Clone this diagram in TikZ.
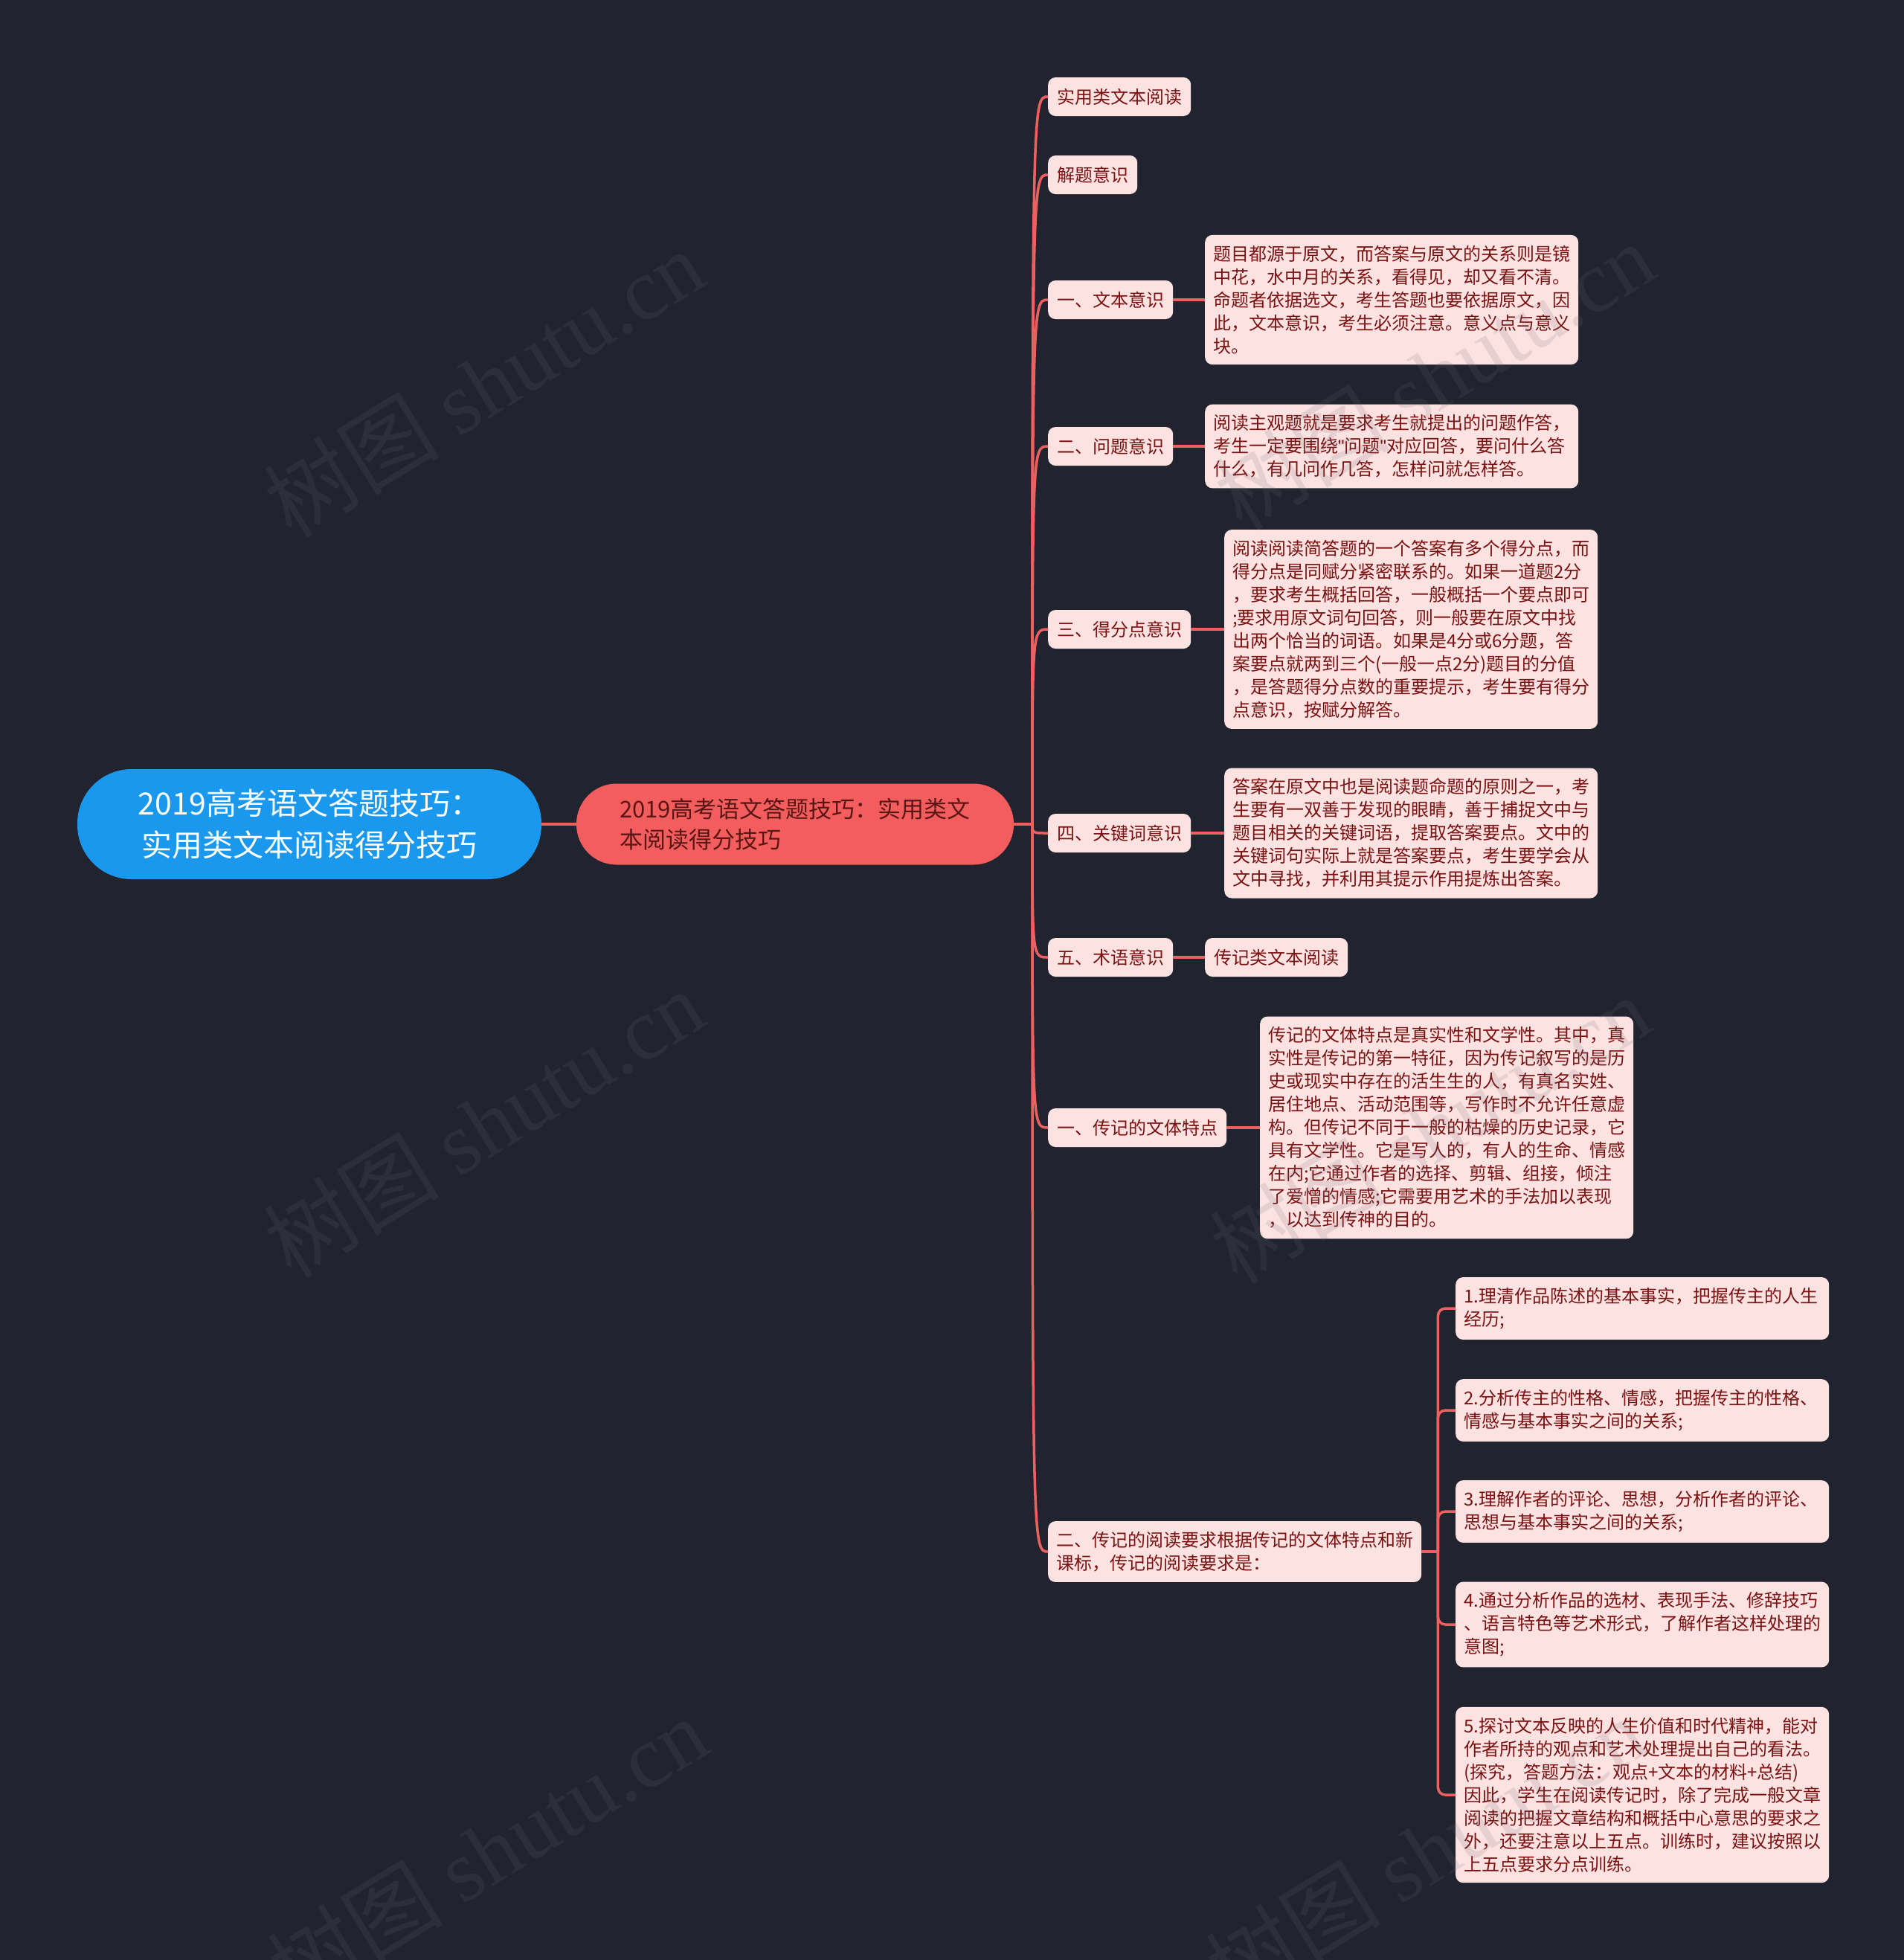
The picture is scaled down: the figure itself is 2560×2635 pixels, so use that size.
\documentclass[tikz,border=0pt]{standalone}
\usepackage{fontspec}
\setmainfont{Noto Sans CJK SC}
\newfontfamily\wmfont{Liberation Serif}
\newfontfamily\latinfont{Liberation Sans}
\usetikzlibrary{calc}
\definecolor{bgc}{HTML}{21242F}
\definecolor{rootc}{HTML}{1A98EE}
\definecolor{mainc}{HTML}{F45D5D}
\definecolor{maintxt}{HTML}{5A1515}
\definecolor{boxc}{HTML}{FDE2E2}
\definecolor{boxtxt}{HTML}{7A1212}
\definecolor{linec}{HTML}{EE6060}
\definecolor{wmc}{HTML}{6A6E78}
\begin{document}
\begin{tikzpicture}[x=1pt,y=-1pt,
  rootbox/.style={fill=rootc, text=white, rounded corners=73pt, minimum height=148pt, minimum width=624pt, inner xsep=41pt, align=center, font=\fontsize{41}{56}\selectfont},
  mainbox/.style={fill=mainc, text=maintxt, rounded corners=54pt, minimum height=109pt, minimum width=588pt, inner xsep=58pt, align=left, font=\fontsize{31}{41}\selectfont},
  topic/.style={fill=boxc, text=boxtxt, rounded corners=10pt, minimum height=52pt, inner xsep=12pt, inner ysep=14pt, font=\fontsize{24}{31}\selectfont, anchor=west},
  para/.style={topic, text width=480pt, inner xsep=11pt, align=left},
  link/.style={draw=linec, line width=3.5pt},
  wm/.style={text=wmc, opacity=0.16, rotate=31.5, font=\fontsize{118}{118}\selectfont}
]
\fill[bgc] (0,0) rectangle (2560,2635);
\useasboundingbox (0,0) rectangle (2560,2635);

% root and main topic
\node[rootbox] (root) at (416,1108) {2019高考语文答题技巧：\\实用类文本阅读得分技巧};
\node[mainbox] (main) at (1069,1108) {2019高考语文答题技巧：实用类文\\本阅读得分技巧};

% level 2
\node[topic] (c1) at (1409,130) {实用类文本阅读};
\node[topic] (c2) at (1409,235) {解题意识};
\node[topic] (c3) at (1409,403) {一、文本意识};
\node[topic] (c4) at (1409,600) {二、问题意识};
\node[topic] (c5) at (1409,846) {三、得分点意识};
\node[topic] (c6) at (1409,1120) {四、关键词意识};
\node[topic] (c7) at (1409,1287) {五、术语意识};
\node[topic] (c8) at (1409,1516) {一、传记的文体特点};
\node[para] (c9) at (1409,2086) {二、传记的阅读要求根据传记的文体特点和新\\课标，传记的阅读要求是：};

% level 3
\node[para] (d3) at (1620,403) {题目都源于原文，而答案与原文的关系则是镜\\中花，水中月的关系，看得见，却又看不清。\\命题者依据选文，考生答题也要依据原文，因\\此，文本意识，考生必须注意。意义点与意义\\块。};
\node[para] (d4) at (1620,600) {阅读主观题就是要求考生就提出的问题作答，\\考生一定要围绕{\latinfont"}问题{\latinfont"}对应回答，要问什么答\\什么，有几问作几答，怎样问就怎样答。};
\node[para] (d5) at (1646,846) {阅读阅读简答题的一个答案有多个得分点，而\\得分点是同赋分紧密联系的。如果一道题2分\\，要求考生概括回答，一般概括一个要点即可\\;要求用原文词句回答，则一般要在原文中找\\出两个恰当的词语。如果是4分或6分题，答\\案要点就两到三个(一般一点2分)题目的分值\\，是答题得分点数的重要提示，考生要有得分\\点意识，按赋分解答。};
\node[para] (d6) at (1646,1120) {答案在原文中也是阅读题命题的原则之一，考\\生要有一双善于发现的眼睛，善于捕捉文中与\\题目相关的关键词语，提取答案要点。文中的\\关键词句实际上就是答案要点，考生要学会从\\文中寻找，并利用其提示作用提炼出答案。};
\node[topic] (d7) at (1620,1287) {传记类文本阅读};
\node[para] (d8) at (1694,1516) {传记的文体特点是真实性和文学性。其中，真\\实性是传记的第一特征，因为传记叙写的是历\\史或现实中存在的活生生的人，有真名实姓、\\居住地点、活动范围等，写作时不允许任意虚\\构。但传记不同于一般的枯燥的历史记录，它\\具有文学性。它是写人的，有人的生命、情感\\在内;它通过作者的选择、剪辑、组接，倾注\\了爱憎的情感;它需要用艺术的手法加以表现\\，以达到传神的目的。};

\node[para] (i1) at (1957,1759) {1.理清作品陈述的基本事实，把握传主的人生\\经历;};
\node[para] (i2) at (1957,1896) {2.分析传主的性格、情感，把握传主的性格、\\情感与基本事实之间的关系;};
\node[para] (i3) at (1957,2032) {3.理解作者的评论、思想，分析作者的评论、\\思想与基本事实之间的关系;};
\node[para] (i4) at (1957,2184) {4.通过分析作品的选材、表现手法、修辞技巧\\、语言特色等艺术形式，了解作者这样处理的\\意图;};
\node[para] (i5) at (1957,2413) {5.探讨文本反映的人生价值和时代精神，能对\\作者所持的观点和艺术处理提出自己的看法。\\(探究，答题方法：观点+文本的材料+总结)\\因此，学生在阅读传记时，除了完成一般文章\\阅读的把握文章结构和概括中心意思的要求之\\外，还要注意以上五点。训练时，建议按照以\\上五点要求分点训练。};

% connectors
\draw[link] (root.east) -- (main.west);
\coordinate (hub) at (1388,1108);
\draw[link] (main.east) -- (hub);
\foreach \c in {c1,c2,c3,c4,c5,c6,c7,c8,c9}
  \draw[link] (hub) .. controls (hub |- \c.west) .. (\c.west);
\foreach \a/\b in {c3/d3,c4/d4,c5/d5,c6/d6,c7/d7,c8/d8}
  \draw[link] (\a.east) -- (\b.west);
\coordinate (j9) at ([xshift=22pt]c9.east);
\draw[link] (c9.east) -- (j9);
\foreach \i in {i1,i2,i3,i4,i5}
  \draw[link, rounded corners=10pt] (j9) |- (\i.west);

% watermarks
\foreach \p in {(650,515),(650,1510),(655,2488),(1928,505),(1922,1518),(1916,2488)}
  \node[wm] at \p {树图 {\wmfont shutu.cn}};
\end{tikzpicture}
\end{document}
